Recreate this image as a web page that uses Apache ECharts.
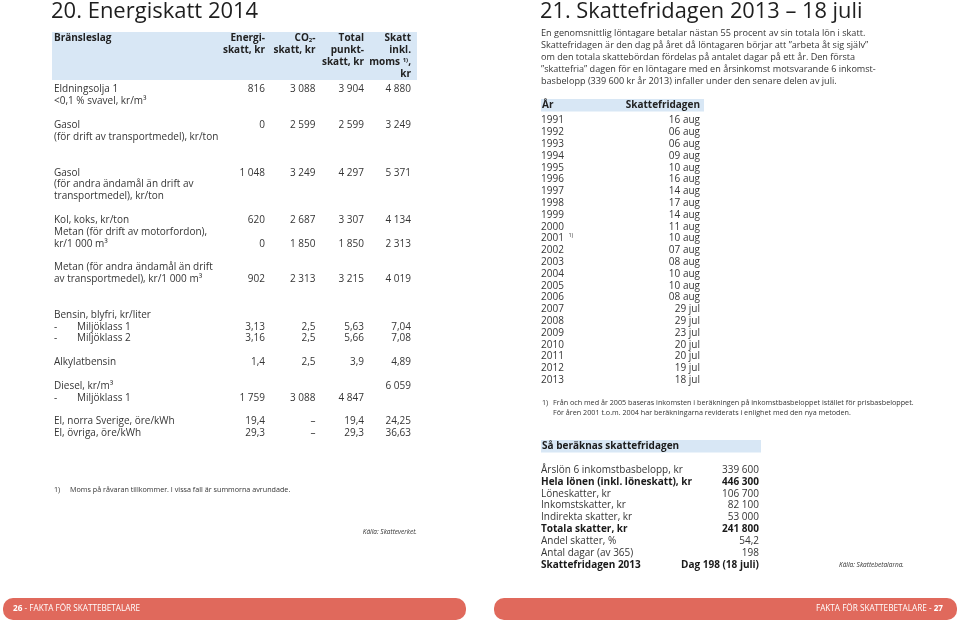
<!DOCTYPE html>
<html>
<head>
<meta charset="utf-8">
<script src="https://cdn.jsdelivr.net/npm/echarts@6/dist/echarts.min.js"></script>
<style>
html,body{margin:0;padding:0;background:#fff;}
#chart{width:960px;height:624px;}
</style>
</head>
<body>
<div id="chart"></div>
<script>
// ---------- DATA ----------
const leftTitle = '20. Energiskatt 2014';
const rightTitle = '21. Skattefridagen 2013 – 18 juli';

const energyFirstHeader = 'Bränsleslag';
const energyColumnHeaders = [
  ['Energi-', 'skatt, kr'],
  ['CO{sub|2}-', 'skatt, kr'],
  ['Total', 'punkt-', 'skatt, kr'],
  ['Skatt', 'inkl.', 'moms {sup|1)},', 'kr']
];
// each line: [label, energiskatt, co2-skatt, total punktskatt, skatt inkl. moms]; empty = blank line
const energyLines = [
  ['Eldningsolja 1', '816', '3 088', '3 904', '4 880'],
  ['<0,1 % svavel, kr/m³'],
  [],
  ['Gasol', '0', '2 599', '2 599', '3 249'],
  ['(för drift av transportmedel), kr/ton'],
  [],
  [],
  ['Gasol', '1 048', '3 249', '4 297', '5 371'],
  ['(för andra ändamål än drift av'],
  ['transportmedel), kr/ton'],
  [],
  ['Kol, koks, kr/ton', '620', '2 687', '3 307', '4 134'],
  ['Metan (för drift av motorfordon),'],
  ['kr/1 000 m³', '0', '1 850', '1 850', '2 313'],
  [],
  ['Metan (för andra ändamål än drift'],
  ['av transportmedel), kr/1 000 m³', '902', '2 313', '3 215', '4 019'],
  [],
  [],
  ['Bensin, blyfri, kr/liter'],
  ['-|Miljöklass 1', '3,13', '2,5', '5,63', '7,04'],
  ['-|Miljöklass 2', '3,16', '2,5', '5,66', '7,08'],
  [],
  ['Alkylatbensin', '1,4', '2,5', '3,9', '4,89'],
  [],
  ['Diesel, kr/m³', '', '', '', '6 059'],
  ['-|Miljöklass 1', '1 759', '3 088', '4 847', ''],
  [],
  ['El, norra Sverige, öre/kWh', '19,4', '–', '19,4', '24,25'],
  ['El, övriga, öre/kWh', '29,3', '–', '29,3', '36,63']
];
const energyFootnote = 'Moms på råvaran tillkommer. I vissa fall är summorna avrundade.';
const energySource = 'Källa: Skatteverket.';

const introLines = [
  'En genomsnittlig löntagare betalar nästan 55 procent av sin totala lön i skatt.',
  'Skattefridagen är den dag på året då löntagaren börjar att ”arbeta åt sig själv”',
  'om den totala skattebördan fördelas på antalet dagar på ett år. Den första',
  '”skattefria” dagen för en löntagare med en årsinkomst motsvarande 6 inkomst-',
  'basbelopp (339 600 kr år 2013) infaller under den senare delen av juli.'
];
const yearHeader = ['År', 'Skattefridagen'];
const years = [1991, 1992, 1993, 1994, 1995, 1996, 1997, 1998, 1999, 2000, 2001, 2002,
  2003, 2004, 2005, 2006, 2007, 2008, 2009, 2010, 2011, 2012, 2013];
const freeDays = ['16 aug', '06 aug', '06 aug', '09 aug', '10 aug', '16 aug', '14 aug', '17 aug',
  '14 aug', '11 aug', '10 aug', '07 aug', '08 aug', '10 aug', '10 aug', '08 aug', '29 jul',
  '29 jul', '23 jul', '20 jul', '20 jul', '19 jul', '18 jul'];
const footnoteYear = 2001;
const yearFootnote = [
  'Från och med år 2005 baseras inkomsten i beräkningen på inkomstbasbeloppet istället för prisbasbeloppet.',
  'För åren 2001 t.o.m. 2004 har beräkningarna reviderats i enlighet med den nya metoden.'
];
const calcTitle = 'Så beräknas skattefridagen';
const calcLabels = ['Årslön 6 inkomstbasbelopp, kr', 'Hela lönen (inkl. löneskatt), kr', 'Löneskatter, kr',
  'Inkomstskatter, kr', 'Indirekta skatter, kr', 'Totala skatter, kr', 'Andel skatter, %',
  'Antal dagar (av 365)', 'Skattefridagen 2013'];
const calcValues = ['339 600', '446 300', '106 700', '82 100', '53 000', '241 800', '54,2', '198', 'Dag 198 (18 juli)'];
const calcBold = [false, true, false, false, false, true, false, false, true];
const calcSource = 'Källa: Skattebetalarna.';
const footerLeft = ['26', ' - FAKTA FÖR SKATTEBETALARE'];
const footerRight = ['FAKTA FÖR SKATTEBETALARE - ', '27'];

// ---------- LAYOUT / STYLE ----------
const FF = '"Open Sans", "Noto Sans", sans-serif';
const TXT = '#353535';
const BAND = '#d8e7f5';
const CORAL = '#e0695c';

const els = [];
function txt(x, y, text, o) {
  o = o || {};
  const style = {
    text: text, x: 0, y: 0,
    fill: o.fill || TXT,
    fontFamily: o.family || FF,
    fontSize: o.size || 10,
    fontWeight: o.weight || 'normal',
    fontStyle: o.italic ? 'italic' : 'normal',
    align: o.align || 'left', textAlign: o.align || 'left',
    verticalAlign: 'middle', textVerticalAlign: 'middle'
  };
  if (o.rich) style.rich = o.rich;
  els.push({ type: 'text', x: x, y: y, silent: true, style: style });
}
function rect(x, y, w, h, fill, r) {
  els.push({ type: 'rect', silent: true, shape: { x: x, y: y, width: w, height: h, r: r || 0 }, style: { fill: fill } });
}

// Left page
txt(51, 12, leftTitle, { size: 22, fill: '#1e1e1e' });
rect(52, 32, 365, 48, BAND);
const colRight = [265, 315.5, 364, 411];
const hdrY0 = 38.5, hdrPitch = 12;
txt(54, hdrY0, energyFirstHeader, { weight: 'bold', fill: '#222' });
const hdrRich = {
  sub: { fontSize: 6, fontWeight: 'bold', fontFamily: FF, fill: '#222', verticalAlign: 'bottom', lineHeight: 6, padding: [6, 0, 0, 0] },
  sup: { fontSize: 6, fontWeight: 'bold', fontFamily: FF, fill: '#222', verticalAlign: 'top', lineHeight: 6, padding: [0, 0, 4, 0] }
};
energyColumnHeaders.forEach((lines, c) => {
  lines.forEach((l, i) => {
    txt(colRight[c], hdrY0 + i * hdrPitch, l, { weight: 'bold', fill: '#222', align: 'right', rich: hdrRich });
  });
});
const rowY0 = 89, rowPitch = 11.85;
energyLines.forEach((line, i) => {
  if (!line.length) return;
  const y = rowY0 + i * rowPitch + (i > 0 ? 0.8 : 0);
  const lab = line[0];
  if (lab.indexOf('|') >= 0) {
    const parts = lab.split('|');
    txt(54, y, parts[0]);
    txt(77, y, parts[1]);
  } else {
    txt(54, y, lab);
  }
  for (let c = 1; c < line.length; c++) {
    if (line[c]) txt(colRight[c - 1], y, line[c], { align: 'right' });
  }
});
txt(54, 490, '1)', { size: 7.2 });
txt(70, 490, energyFootnote, { size: 7.2 });
txt(417, 532, energySource, { size: 6.5, italic: true, align: 'right' });

// Right page
txt(540, 12, rightTitle, { size: 21.8, fill: '#1e1e1e' });
introLines.forEach((l, i) => txt(541, 33 + i * 12, l, { size: 9.1 }));
rect(541, 99, 163, 12.5, BAND);
txt(542, 105.5, yearHeader[0], { weight: 'bold', fill: '#222' });
txt(700, 105.5, yearHeader[1], { weight: 'bold', fill: '#222', align: 'right' });
const yearY0 = 120.5, yearPitch = 11.8;
years.forEach((yr, i) => {
  const y = yearY0 + i * yearPitch;
  if (yr === footnoteYear) {
    txt(541, y, '{n|' + yr + '} {s|1)}', {
      rich: {
        n: { fontSize: 10, fontFamily: FF, fill: TXT, lineHeight: 12 },
        s: { fontSize: 5.5, fontFamily: FF, fill: TXT, verticalAlign: 'top', lineHeight: 6, padding: [0, 0, 5, 2] }
      }
    });
  } else {
    txt(541, y, String(yr));
  }
  txt(700, y, freeDays[i], { align: 'right' });
});
txt(542, 402.5, '1)', { size: 7.2 });
yearFootnote.forEach((l, i) => txt(553, 402.5 + i * 10.6, l, { size: 7.2 }));
rect(541, 440, 220, 12.5, BAND);
txt(542, 446.5, calcTitle, { size: 10, weight: 'bold', fill: '#1a1a1a' });
const calcY0 = 470, calcPitch = 11.875;
calcLabels.forEach((l, i) => {
  const y = calcY0 + i * calcPitch;
  const o = calcBold[i] ? { weight: 'bold', fill: '#1a1a1a', size: 10 } : { size: 10 };
  txt(541, y, l, o);
  txt(759, y, calcValues[i], Object.assign({}, o, { align: 'right' }));
});
txt(904, 565, calcSource, { size: 6.5, italic: true, align: 'right' });

// Footers
rect(3, 598, 463, 22, CORAL, 10);
rect(494, 598, 463, 22, CORAL, 10);
const footRich = {
  b: { fontSize: 8.2, fontWeight: 'bold', fontFamily: FF, fill: '#fff' },
  t: { fontSize: 8.2, fontFamily: FF, fill: '#fff' }
};
txt(13, 609, '{b|' + footerLeft[0] + '}{t|' + footerLeft[1] + '}', { fill: '#fff', rich: footRich });
txt(943, 609, '{t|' + footerRight[0] + '}{b|' + footerRight[1] + '}', { fill: '#fff', align: 'right', rich: footRich });

const chart = echarts.init(document.getElementById('chart'), null, { renderer: 'canvas' });
chart.setOption({
  backgroundColor: '#ffffff',
  animation: false,
  graphic: { elements: els }
});
</script>
</body>
</html>
